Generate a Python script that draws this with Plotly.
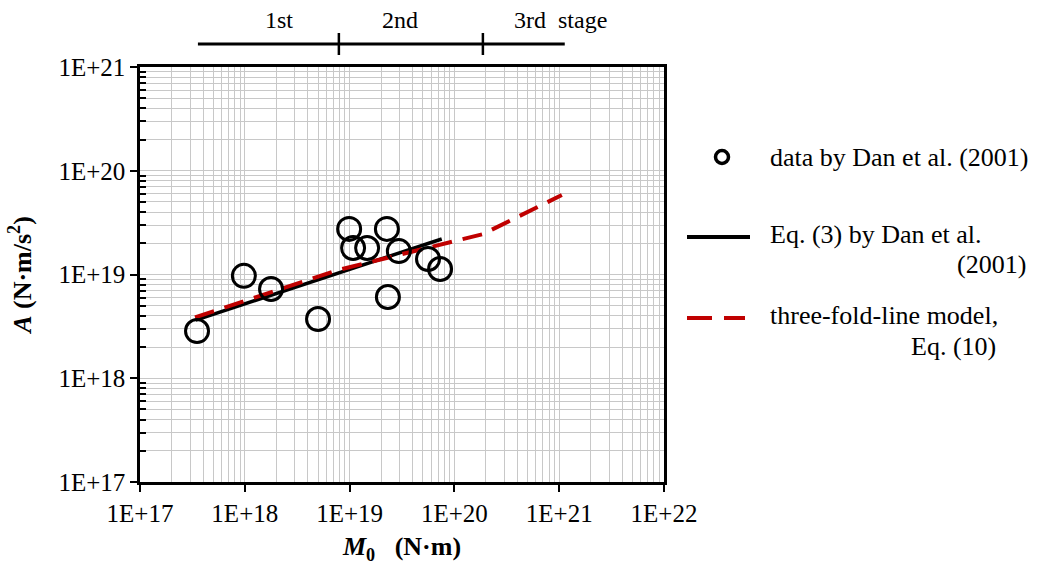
import math
import plotly.graph_objects as go

# ---- data ----
m0_data = [3.5e17, 9.8e17, 1.78e18, 5.0e18, 9.9e18, 1.08e19, 1.47e19,
           2.27e19, 2.32e19, 2.95e19, 5.6e19, 7.3e19]
a_data = [2.85e18, 9.7e18, 7.25e18, 3.72e18, 2.75e19, 1.8e19, 1.8e19,
          2.75e19, 6.07e18, 1.68e19, 1.41e19, 1.13e19]

eq3_m0 = [3.4e17, 7.57e19]
eq3_a = [3.64e18, 2.2e19]

three_fold_m0 = [3.35e17, 7.9e18, 1.87e20, 1.06e21]
three_fold_a = [3.86e18, 1.11e19, 2.45e19, 5.84e19]

stage_bar_m0 = [3.57e17, 1.13e21]
stage_bounds_m0 = [7.9e18, 1.87e20]
stage_labels = ["1st", "2nd", "3rd&nbsp;&nbsp;stage"]
stage_label_m0 = [2.12e18, 3.03e19, 1.02e21]

x_tick_vals = [1e17, 1e18, 1e19, 1e20, 1e21, 1e22]
x_tick_text = ["1E+17", "1E+18", "1E+19", "1E+20", "1E+21", "1E+22"]
y_tick_vals = [1e17, 1e18, 1e19, 1e20, 1e21]
y_tick_text = ["1E+17", "1E+18", "1E+19", "1E+20", "1E+21"]

legend_names = ["data by Dan et al. (2001)", "Eq. (3) by Dan et al.", "(2001)",
                "three-fold-line model,", "Eq. (10)"]

FONT = "Liberation Serif, Times New Roman, DejaVu Serif, serif"
RED = "#c00000"
GRID = "#c8c8c8"

# plot area pixels
L, R, T, B = 140, 664, 67, 482
W, H = 1040, 572


def px(x):
    return (x - L) / (R - L)


def py(y):
    return (B - y) / (B - T)


def minor_vals(decades):
    return [k * 10.0 ** d for d in decades for k in range(2, 10)]


fig = go.Figure()

fig.add_trace(go.Scatter(
    x=eq3_m0, y=eq3_a, mode="lines",
    line=dict(color="black", width=3.5), showlegend=False))

fig.add_trace(go.Scatter(
    x=three_fold_m0, y=three_fold_a, mode="lines",
    line=dict(color=RED, width=4, dash="20px,11px"), showlegend=False))

fig.add_trace(go.Scatter(
    x=m0_data, y=a_data, mode="markers",
    marker=dict(symbol="circle-open", size=23, color="black",
                line=dict(width=3, color="black")),
    showlegend=False))

axis_common = dict(
    type="log", showline=True, linecolor="black", linewidth=2.5, mirror=True,
    showgrid=True, gridcolor=GRID, gridwidth=1, zeroline=False,
    ticks="outside", ticklen=7, tickwidth=2, tickcolor="black",
    tickfont=dict(family=FONT, size=25, color="black"),
)

fig.update_xaxes(
    **axis_common, range=[17, 22], tickmode="array",
    tickvals=x_tick_vals, ticktext=x_tick_text,
    minor=dict(tickmode="array", tickvals=minor_vals(range(17, 22)),
               showgrid=True, gridcolor=GRID, gridwidth=1, ticks=""),
    title=dict(text="<b><i>M</i><sub>0</sub>&nbsp;&nbsp;&nbsp;(N·m)</b>",
               font=dict(family=FONT, size=26, color="black"), standoff=12),
)
fig.update_yaxes(
    **axis_common, range=[17, 21], tickmode="array",
    tickvals=y_tick_vals, ticktext=y_tick_text,
    minor=dict(tickmode="array", tickvals=minor_vals(range(17, 21)),
               showgrid=True, gridcolor=GRID, gridwidth=1, ticks="inside",
               ticklen=6, tickwidth=2, tickcolor="black"),
    title=dict(text="<b><i>A</i> (N·m/s<sup>2</sup>)</b>",
               font=dict(family=FONT, size=26, color="black"), standoff=20),
)

shapes = []
# stage bar
shapes.append(dict(type="line", xref="x", yref="paper",
                   x0=stage_bar_m0[0], x1=stage_bar_m0[1],
                   y0=py(44), y1=py(44), line=dict(color="black", width=3)))
for b in stage_bounds_m0:
    shapes.append(dict(type="line", xref="x", yref="paper", x0=b, x1=b,
                       y0=py(33), y1=py(55), line=dict(color="black", width=2.5)))

# legend samples
shapes.append(dict(type="line", xref="paper", yref="paper",
                   x0=px(687), x1=px(750), y0=py(237), y1=py(237),
                   line=dict(color="black", width=4)))
shapes.append(dict(type="line", xref="paper", yref="paper",
                   x0=px(687), x1=px(712), y0=py(318), y1=py(318),
                   line=dict(color=RED, width=4)))
shapes.append(dict(type="line", xref="paper", yref="paper",
                   x0=px(724), x1=px(745), y0=py(318), y1=py(318),
                   line=dict(color=RED, width=4)))
shapes.append(dict(type="circle", xref="paper", yref="paper",
                   x0=px(715.5), x1=px(728.5), y0=py(150.5), y1=py(163.5),
                   line=dict(color="black", width=3.5)))

annotations = []
for lab, xm in zip(stage_labels, stage_label_m0):
    annotations.append(dict(x=math.log10(xm), y=py(20), xref="x", yref="paper",
                            text=lab, showarrow=False, xanchor="center",
                            yanchor="middle",
                            font=dict(family=FONT, size=24, color="black")))

leg_pos = [(768, 157, "left"), (768, 234, "left"), (1028, 264, "right"),
           (768, 315, "left"), (998, 346, "right")]
for name, (lx, ly, anc) in zip(legend_names, leg_pos):
    annotations.append(dict(x=px(lx), y=py(ly), xref="paper", yref="paper",
                            text=name, showarrow=False, xanchor=anc,
                            yanchor="middle",
                            font=dict(family=FONT, size=26, color="black")))

fig.update_layout(
    width=W, height=H,
    margin=dict(l=L, r=W - R, t=T, b=H - B),
    plot_bgcolor="white", paper_bgcolor="white",
    shapes=shapes, annotations=annotations, showlegend=False,
)

fig.write_html("out.html")
